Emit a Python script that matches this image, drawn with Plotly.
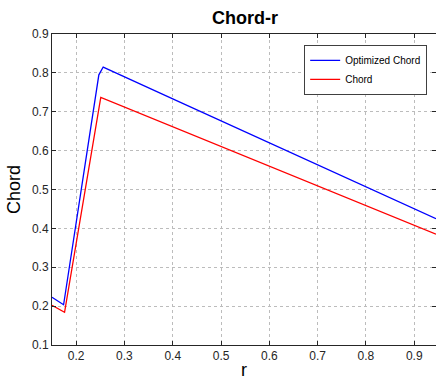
import plotly.graph_objects as go

r_opt = [0.15, 0.174, 0.247, 0.256, 0.4, 0.6, 0.8, 0.945]
chord_opt = [0.223, 0.2036, 0.795, 0.815, 0.733, 0.620, 0.507, 0.425]

r_base = [0.15, 0.176, 0.251, 0.4, 0.6, 0.8, 0.945]
chord_base = [0.202, 0.184, 0.737, 0.661, 0.560, 0.458, 0.385]

x_ticks = [0.2, 0.3, 0.4, 0.5, 0.6, 0.7, 0.8, 0.9]
y_ticks = [0.1, 0.2, 0.3, 0.4, 0.5, 0.6, 0.7, 0.8, 0.9]

fig = go.Figure()
fig.add_trace(go.Scatter(x=r_opt, y=chord_opt, mode="lines", name="Optimized Chord",
                         line=dict(color="#0000ff", width=1.3)))
fig.add_trace(go.Scatter(x=r_base, y=chord_base, mode="lines", name="Chord",
                         line=dict(color="#ff0000", width=1.3)))

axis_common = dict(
    showline=True, linecolor="#262626", linewidth=1, mirror="ticks",
    ticks="inside", ticklen=4, tickcolor="#262626",
    showgrid=True, gridcolor="#bcbcbc", griddash="dot", gridwidth=1,
    zeroline=False, automargin=False,
    tickfont=dict(family="Liberation Sans, Arial", size=12, color="#262626"),
)

fig.update_layout(
    width=436, height=384,
    margin=dict(l=52, r=0, t=34, b=39, autoexpand=False),
    paper_bgcolor="white", plot_bgcolor="white",
    title=dict(text="<b>Chord-r</b>", x=0.562, xanchor="center", y=0.953, yanchor="middle",
               font=dict(family="Liberation Sans, Arial", size=18, color="black")),
    xaxis=dict(range=[0.15, 0.945], tickvals=x_ticks, ticktext=[f"{v:.1f}" for v in x_ticks],
               title=dict(text="r", font=dict(family="Liberation Sans, Arial", size=18, color="black"), standoff=0),
               **axis_common),
    yaxis=dict(range=[0.1, 0.9], tickvals=y_ticks, ticktext=[f"{v:.1f}" for v in y_ticks],
               title=dict(text="Chord", font=dict(family="Liberation Sans, Arial", size=18, color="black"), standoff=6),
               **axis_common),
    legend=dict(x=0.977, xanchor="right", y=0.965, yanchor="top",
                bgcolor="white", bordercolor="#404040", borderwidth=1,
                font=dict(family="Liberation Sans, Arial", size=10, color="black"),
                tracegroupgap=0, itemwidth=30),
    showlegend=True,
)

fig.write_html("out.html", config={"displayModeBar": False},
               post_script="document.body.style.margin='0';document.body.style.overflow='hidden';")
